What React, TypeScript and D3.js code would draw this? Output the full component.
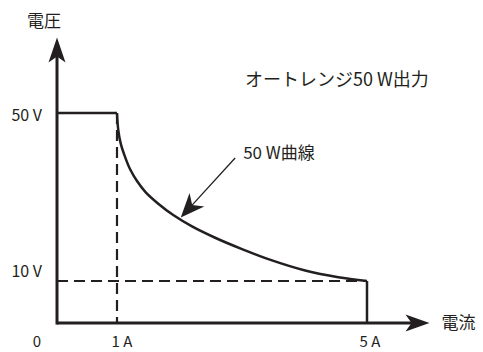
import React from 'react';
import * as d3 from 'd3';

// 50 W auto-range output: 50 V up to 1 A, then the power curve down to 10 V at 5 A
const curveCurrent = [1, 1.02, 1.06, 1.13, 1.21, 1.32, 1.46, 1.66, 1.9, 2.2, 2.57, 3, 3.48, 4.01, 4.54, 5];
const curveVoltage = [50, 46, 42.7, 39.5, 36.6, 33.8, 31.1, 28.4, 25.7, 23, 20.3, 17.6, 14.9, 12.5, 10.9, 10];

const maxVoltage = 50;
const minVoltage = 10;
const cornerCurrent = 1;
const maxCurrent = 5;

const yTickValues = [50, 10];
const yTickLabels = ['50 V', '10 V'];
const xTickValues = [0, 1, 5];
const xTickLabels = ['0', '1 A', '5 A'];

const xAxisEnd = 6.0;
const yAxisEnd = 68;

const title = 'オートレンジ50 W出力';
const curveLabel = '50 W曲線';
const yTitle = '電圧';
const xTitle = '電流';

// annotation arrow: from label to the curve (current, voltage)
const pointerFrom = [2.89, 39.3];
const pointerTo = [2.02, 25.1];

const W = 483;
const H = 352;
const INK = '#231f20';
const FONT = "'Noto Sans CJK JP', sans-serif";

const arrowHead = (tx, ty, dx, dy, len, half, notch) => {
  const n = Math.hypot(dx, dy);
  const ux = dx / n;
  const uy = dy / n;
  const px = -uy;
  const py = ux;
  const bx = tx - ux * len;
  const by = ty - uy * len;
  const p = d3.path();
  p.moveTo(tx, ty);
  p.lineTo(bx + px * half, by + py * half);
  p.lineTo(tx - ux * notch, ty - uy * notch);
  p.lineTo(bx - px * half, by - py * half);
  p.closePath();
  return p.toString();
};

const App = () => {
  // schematic axis: the 0-1 A stretch is drawn a little narrower than the rest
  const x = d3.scaleLinear().domain([0, cornerCurrent, maxCurrent]).range([57, 117, 367]);
  const y = d3.scaleLinear().domain([0, maxVoltage]).range([323, 113]);

  const curve = d3
    .line()
    .x((d) => x(d[0]))
    .y((d) => y(d[1]))
    .curve(d3.curveCatmullRom.alpha(0.5))(curveCurrent.map((c, i) => [c, curveVoltage[i]]));

  const x0 = x(0);
  const y0 = y(0);
  const xTip = x(xAxisEnd);
  const yTip = y(yAxisEnd);

  const fx = x(pointerFrom[0]);
  const fy = y(pointerFrom[1]);
  const tx = x(pointerTo[0]);
  const ty = y(pointerTo[1]);

  return (
    <svg
      width={W}
      height={H}
      style={{ position: 'absolute', left: 0, top: 0, background: '#fff' }}
      fontFamily={FONT}
      fill={INK}
    >
      {/* dashed guides */}
      <g stroke={INK} strokeWidth={2.2} strokeDasharray="11,6" fill="none">
        <line x1={x(cornerCurrent)} x2={x(cornerCurrent)} y1={y(maxVoltage)} y2={y0} />
        <line x1={x0} x2={x(maxCurrent)} y1={y(minVoltage)} y2={y(minVoltage)} />
      </g>

      {/* output envelope */}
      <g stroke={INK} strokeWidth={2.5} fill="none">
        <line x1={x0} x2={x(cornerCurrent)} y1={y(maxVoltage)} y2={y(maxVoltage)} />
        <path d={curve} />
        <line x1={x(maxCurrent)} x2={x(maxCurrent)} y1={y(minVoltage)} y2={y0} />
      </g>

      {/* axes */}
      <g stroke={INK} strokeWidth={3} fill="none">
        <line x1={x0} x2={x0} y1={y0 + 1.5} y2={yTip + 15} />
        <line x1={x0} x2={xTip - 15} y1={y0} y2={y0} />
      </g>
      <path d={arrowHead(x0, yTip, 0, -1, 25, 8.5, 19)} stroke="none" />
      <path d={arrowHead(xTip, y0, 1, 0, 24, 8.5, 18)} stroke="none" />

      {/* pointer to the curve */}
      <line
        x1={fx}
        y1={fy}
        x2={tx + (fx - tx) * 0.2}
        y2={ty + (fy - ty) * 0.2}
        stroke={INK}
        strokeWidth={1.3}
      />
      <path d={arrowHead(tx, ty, tx - fx, ty - fy, 24, 10, 17)} stroke="none" />

      {/* tick labels */}
      <g fontSize={16} textAnchor="end">
        {yTickValues.map((v, i) => (
          <text key={v} x={x0 - 15} y={y(v) + (v === minVoltage ? -10 : 2)} dy="0.35em">
            {yTickLabels[i]}
          </text>
        ))}
      </g>
      <g fontSize={15} textAnchor="middle">
        {xTickValues.map((v, i) => (
          <text key={v} x={v === 0 ? x0 - 20 : x(v) + (v === cornerCurrent ? 5 : 3)} y={y0 + 19} dy="0.35em">
            {xTickLabels[i]}
          </text>
        ))}
      </g>

      {/* titles */}
      <text x={x0 - 13} y={yTip - 16} dy="0.35em" fontSize={17} textAnchor="middle">
        {yTitle}
      </text>
      <text x={xTip + 12} y={y0} dy="0.35em" fontSize={17}>
        {xTitle}
      </text>
      <text x={245} y={80} dy="0.35em" fontSize={18}>
        {title}
      </text>
      <text x={fx + 8} y={fy - 5} dy="0.35em" fontSize={17}>
        {curveLabel}
      </text>
    </svg>
  );
};

export default App;
